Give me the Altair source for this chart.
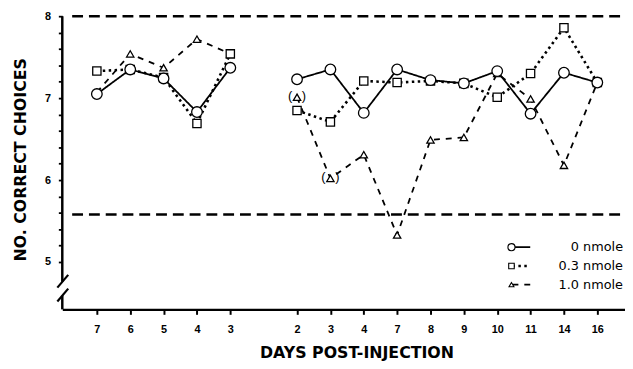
import altair as alt
import pandas as pd

# ---- data ----
day_labels = ["7", "6", "5", "4", "3", "2", "3", "4", "7", "8", "9", "10", "11", "14", "16"]
phase = ["pre"] * 5 + ["post"] * 10
slot = [0, 1, 2, 3, 4, 6, 7, 8, 9, 10, 11, 12, 13, 14, 15]
dose_0 = [7.05, 7.35, 7.24, 6.83, 7.37, 7.23, 7.35, 6.82, 7.35, 7.22, 7.18, 7.33, 6.81, 7.31, 7.19]
dose_03 = [7.33, 7.35, 7.25, 6.69, 7.54, 6.85, 6.71, 7.21, 7.19, 7.21, 7.18, 7.01, 7.30, 7.86, 7.19]
dose_10 = [7.07, 7.54, 7.37, 7.72, 7.54, 7.01, 6.02, 6.31, 5.33, 6.49, 6.52, 7.30, 6.99, 6.18, 7.19]
series_names = ["0 nmole", "0.3 nmole", "1.0 nmole"]
bracketed_idx = [5, 6]          # 1.0 nmole points shown in parentheses
criterion_lines = [8.0, 5.58]
y_ticks = [round(5 + 0.2 * i, 1) for i in range(16)]
y_axis_segments = [(8.0, 4.76), (4.59, 4.422)]

rows = []
for name, vals in zip(series_names, [dose_0, dose_03, dose_10]):
    for i, v in enumerate(vals):
        rows.append({"series": name, "slot": slot[i], "value": v, "phase": phase[i], "idx": i})
df = pd.DataFrame(rows)

FONT = "Liberation Sans"
TFONT = "DejaVu Sans"
xscale = alt.Scale(domain=[-1.036, 15.83], nice=False, zero=False)
yscale = alt.Scale(domain=[4.422, 8.0], nice=False, zero=False)

label_arr = "[" + ",".join("'%s'" % s for s in day_labels) + "]"
x_axis = alt.Axis(
    values=slot,
    labelExpr=label_arr + "[datum.value <= 4 ? datum.value : datum.value - 1]",
    title="DAYS POST-INJECTION", titleFont=TFONT, titleFontSize=16, titleFontWeight="bold",
    titlePadding=11, titleX=298, titleAlign="center",
    labelFont=FONT, labelFontSize=11, labelFontWeight="bold", labelPadding=9,
    domainWidth=2.2, domainColor="black", tickColor="black", tickWidth=2, tickSize=5,
    grid=False, labelColor="black", titleColor="black",
)
y_axis = alt.Axis(
    values=y_ticks,
    labelExpr="abs(datum.value - round(datum.value)) < 0.01 ? format(datum.value, 'd') : ''",
    title="NO. CORRECT CHOICES", titleFont=TFONT, titleFontSize=16, titleFontWeight="bold",
    titlePadding=16, titleY=145,
    labelFont=FONT, labelFontSize=11, labelFontWeight="bold", labelPadding=8,
    domain=False, tickColor="black", tickWidth=1.8, tickSize=4,
    grid=False, labelColor="black", titleColor="black",
)


def X(field):
    return alt.X(field, scale=xscale, axis=x_axis)


def Y(field):
    return alt.Y(field, scale=yscale, axis=y_axis)


styles = {
    "0 nmole": dict(dash=[1, 0], width=1.8, shape="circle", size=115),
    "0.3 nmole": dict(dash=[2.5, 3.5], width=2.6, shape="square", size=70),
    "1.0 nmole": dict(dash=[6, 6], width=1.8, shape="triangle-up", size=55),
}

layers = []

# criterion dashed lines
crit = pd.DataFrame({"value": criterion_lines})
layers.append(
    alt.Chart(crit).mark_rule(color="black", strokeWidth=2.5, strokeDash=[11, 6])
    .encode(y=Y("value:Q"), x=alt.value(10), x2=alt.value(575))
)

# y axis line with break
seg = pd.DataFrame({"value": [a for a, b in y_axis_segments], "value2": [b for a, b in y_axis_segments]})
layers.append(
    alt.Chart(seg).mark_rule(color="black", strokeWidth=2.5)
    .encode(y=Y("value:Q"), y2=alt.Y2("value2:Q"), x=alt.value(0))
)
for dy in [0, 14]:
    layers.append(
        alt.Chart(pd.DataFrame({"k": [0]})).mark_rule(color="black", strokeWidth=2.2)
        .encode(x=alt.value(-5), x2=alt.value(6), y=alt.value(275 + dy), y2=alt.value(262 + dy))
    )

# series lines
for name in ["1.0 nmole", "0.3 nmole", "0 nmole"]:
    st = styles[name]
    layers.append(
        alt.Chart(df[df.series == name]).mark_line(color="black", strokeWidth=st["width"], strokeDash=st["dash"])
        .encode(x=X("slot:Q"), y=Y("value:Q"), detail="phase:N")
    )

# series points
for name in ["1.0 nmole", "0.3 nmole", "0 nmole"]:
    st = styles[name]
    layers.append(
        alt.Chart(df[df.series == name]).mark_point(shape=st["shape"], size=st["size"], filled=True,
                                                    fill="white", stroke="black", strokeWidth=1.3, opacity=1)
        .encode(x=X("slot:Q"), y=Y("value:Q"))
    )

# parentheses around bracketed points
br = df[(df.series == "1.0 nmole") & (df.idx.isin(bracketed_idx))]
for txt, dx in [("(", -7), (")", 7)]:
    layers.append(
        alt.Chart(br).mark_text(text=txt, dx=dx, dy=-1, font=FONT, fontSize=13, color="black")
        .encode(x=X("slot:Q"), y=Y("value:Q"))
    )

# legend
for i, name in enumerate(series_names):
    st = styles[name]
    yy = 234 + 19 * i
    layers.append(
        alt.Chart(pd.DataFrame({"k": [0]})).mark_rule(color="black", strokeWidth=st["width"], strokeDash=st["dash"])
        .encode(x=alt.value(456), x2=alt.value(474), y=alt.value(yy))
    )
    layers.append(
        alt.Chart(pd.DataFrame({"k": [0]})).mark_point(shape=st["shape"], size=st["size"] * 0.45, filled=True,
                                                       fill="white", stroke="black", strokeWidth=1.1, opacity=1)
        .encode(x=alt.value(455), y=alt.value(yy))
    )
    layers.append(
        alt.Chart(pd.DataFrame({"label": [name]})).mark_text(align="right", baseline="middle", font=TFONT,
                                                             fontSize=13, color="black")
        .encode(x=alt.value(568), y=alt.value(yy), text="label:N")
    )

chart = (
    alt.layer(*layers)
    .properties(width=570, height=297, autosize="none",
                padding={"left": 55, "top": 6, "right": 0, "bottom": 50})
    .configure_view(stroke=None)
)

chart.save("out.html", embed_options={"renderer": "svg", "actions": False})
